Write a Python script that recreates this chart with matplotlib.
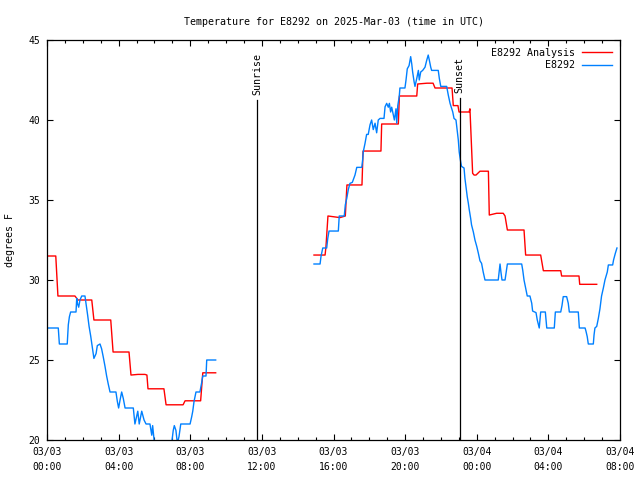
import numpy as np
import matplotlib
matplotlib.use("Agg")
import matplotlib.pyplot as plt

# hours since 2025-03-03 00:00 UTC
analysis_t_am = [0.0, 0.49, 0.61, 1.56, 1.73, 2.50, 2.62, 3.56, 3.69, 4.58, 4.69, 5.08, 5.47,
                 5.58, 5.64, 6.53, 6.65, 7.60, 7.71, 8.58, 8.70, 9.42]
analysis_v_am = [31.5, 31.5, 29.0, 29.0, 28.75, 28.75, 27.5, 27.5, 25.5, 25.5, 24.06, 24.1, 24.1,
                 24.06, 23.2, 23.2, 22.2, 22.2, 22.45, 22.45, 24.2, 24.2]

analysis_t_pm = [14.91, 15.53, 15.58, 15.69, 16.36, 16.66, 16.75, 17.59, 17.65, 18.65, 18.69,
                 19.62, 19.68, 20.65, 20.70, 21.22, 21.56, 21.67, 22.62, 22.69, 22.95, 23.01,
                 23.57, 23.62, 23.77, 23.85, 23.96, 24.18, 24.65, 24.70, 25.11, 25.48, 25.58,
                 25.71, 26.64, 26.73, 27.57, 27.72, 28.69, 28.74, 29.71, 29.75, 30.70]
analysis_v_pm = [31.56, 31.56, 32.1, 34.0, 33.9, 34.0, 35.94, 35.94, 38.06, 38.06, 39.75,
                 39.75, 41.5, 41.5, 42.25, 42.3, 42.3, 42.0, 42.0, 40.9, 40.9, 40.5,
                 40.5, 40.7, 36.67, 36.56, 36.56, 36.8, 36.8, 34.06, 34.17, 34.17, 34.0,
                 33.125, 33.125, 31.56, 31.56, 30.58, 30.58, 30.25, 30.25, 29.73, 29.73]

obs_t_am = [0.0, 0.63, 0.69, 1.13, 1.19, 1.25, 1.32, 1.62, 1.66, 1.71, 1.77, 1.84, 1.94, 2.12,
            2.22, 2.27, 2.35, 2.44, 2.53, 2.62, 2.74, 2.81, 2.96, 3.05, 3.14, 3.24, 3.33, 3.42,
            3.52, 3.85, 3.93, 4.00, 4.08, 4.17, 4.26, 4.36, 4.82, 4.91, 5.07, 5.15, 5.29, 5.42,
            5.53, 5.75, 5.85, 5.90, 5.98, 6.09, 6.59, 6.93, 7.05, 7.11, 7.20, 7.28, 7.37, 7.47,
            7.99, 8.08, 8.14, 8.21, 8.32, 8.54, 8.64, 8.70, 8.88, 8.92, 9.42]
obs_v_am = [27.0, 27.0, 26.0, 26.0, 27.2, 27.7, 28.0, 28.0, 28.85, 28.5, 28.3, 28.75, 29.0, 29.0,
            28.2, 27.8, 27.1, 26.5, 25.8, 25.1, 25.4, 25.9, 26.0, 25.7, 25.2, 24.6, 24.0, 23.5,
            23.0, 23.0, 22.4, 22.0, 22.5, 23.0, 22.6, 22.0, 22.0, 21.0, 21.8, 21.0, 21.8, 21.25,
            21.0, 21.0, 20.3, 20.9, 20.0, 19.5, 19.0, 19.5, 20.6, 20.9, 20.6, 19.8, 20.2, 21.0,
            21.0, 21.45, 21.8, 22.4, 23.0, 23.0, 23.6, 24.0, 24.0, 25.0, 25.0]

obs_t_pm = [14.91, 15.25, 15.30, 15.40, 15.62, 15.68, 15.75, 16.27, 16.32, 16.60, 16.66, 16.74,
            16.83, 16.92, 17.05, 17.20, 17.30, 17.58, 17.63, 17.66, 17.76, 17.85, 17.94, 18.04,
            18.13, 18.22, 18.32, 18.41, 18.50, 18.60, 18.82, 18.88, 18.97, 19.06, 19.12, 19.19,
            19.25, 19.34, 19.40, 19.49, 19.53, 19.59, 19.67, 19.71, 19.99, 20.05, 20.12, 20.22,
            20.31, 20.37, 20.42, 20.50, 20.55, 20.65, 20.74, 20.79, 20.87, 20.98, 21.11, 21.21,
            21.29, 21.35, 21.43, 21.48, 21.85, 21.91, 21.99, 22.32, 22.41, 22.51, 22.66, 22.73,
            22.84, 22.91, 22.97, 23.02, 23.10, 23.15, 23.29, 23.34, 23.40, 23.47, 23.53, 23.58,
            23.66, 23.71, 23.81, 23.90, 24.00, 24.09, 24.18, 24.27, 24.36, 24.46, 25.20, 25.30,
            25.35, 25.41, 25.58, 25.71, 26.51, 26.57, 26.64, 26.75, 26.82, 26.97, 27.07, 27.12,
            27.31, 27.38, 27.49, 27.57, 27.83, 27.91, 28.33, 28.39, 28.69, 28.76, 28.83, 29.02,
            29.11, 29.17, 29.67, 29.73, 30.05, 30.10, 30.17, 30.23, 30.51, 30.55, 30.60, 30.70,
            30.79, 30.88, 30.97, 31.07, 31.16, 31.29, 31.35, 31.59, 31.64, 31.74, 31.83]
obs_v_pm = [31.0, 31.0, 31.46, 32.0, 32.0, 32.6, 33.06, 33.06, 34.0, 34.0, 34.7, 35.1,
            35.67, 36.04, 36.1, 36.56, 37.04, 37.04, 37.54, 38.0, 38.54, 39.1, 39.1, 39.7,
            40.0, 39.4, 39.8, 39.2, 40.0, 40.1, 40.1, 40.83, 41.04, 40.8, 41.04, 40.5,
            40.8, 40.3, 40.0, 40.7, 39.8, 40.9, 41.46, 42.0, 42.0, 42.5, 43.2, 43.4,
            43.96, 43.5, 43.0, 42.4, 42.1, 42.6, 43.1, 42.5, 43.0, 43.1, 43.3, 43.75,
            44.06, 43.75, 43.3, 43.1, 43.1, 42.6, 42.1, 42.1, 41.56, 41.04, 40.5, 40.1,
            40.0, 39.3, 38.75, 38.0, 37.4, 37.1, 37.0, 36.35, 35.8, 35.2, 34.8, 34.4,
            33.85, 33.44, 33.0, 32.5, 32.1, 31.67, 31.2, 31.04, 30.5, 30.0, 30.0, 31.0,
            30.5, 30.0, 30.0, 31.0, 31.0, 30.6, 30.0, 29.4, 29.0, 29.0, 28.55, 28.06,
            27.96, 27.5, 27.0, 28.0, 28.0, 27.0, 27.0, 28.0, 28.0, 28.4, 28.96, 28.96,
            28.55, 28.0, 28.0, 27.0, 27.0, 26.8, 26.46, 26.0, 26.0, 26.56, 27.0, 27.1,
            27.6, 28.2, 29.0, 29.5, 30.0, 30.5, 30.94, 30.94, 31.25, 31.67, 32.0]

sunrise_h = 11.73
sunset_h = 23.04
marker_top = [41.25, 41.4]

xtick_hours = [0, 4, 8, 12, 16, 20, 24, 28, 32]
xtick_labels = ["03/03\n00:00", "03/03\n04:00", "03/03\n08:00", "03/03\n12:00", "03/03\n16:00",
                "03/03\n20:00", "03/04\n00:00", "03/04\n04:00", "03/04\n08:00"]
yticks = [20, 25, 30, 35, 40, 45]

red = "#ff0000"
blue = "#0080ff"

plt.rcParams["font.family"] = ["DejaVu Sans Mono"]
plt.rcParams["font.size"] = 7

fig = plt.figure(figsize=(6.4, 4.8), dpi=100)
ax = fig.add_axes([47 / 640, 40 / 480, 573 / 640, 400 / 480])

ax.plot(analysis_t_am, analysis_v_am, color=red, lw=1.0, label="E8292 Analysis")
ax.plot(analysis_t_pm, analysis_v_pm, color=red, lw=1.0)
ax.plot(obs_t_am, obs_v_am, color=blue, lw=1.0, label="E8292")
ax.plot(obs_t_pm, obs_v_pm, color=blue, lw=1.0)

for h, top, name in zip([sunrise_h, sunset_h], marker_top, ["Sunrise", "Sunset"]):
    ax.plot([h, h], [20, top], color="black", lw=0.9)
    ax.text(h, top + 0.3, name, rotation=90, ha="center", va="bottom", fontsize=7.2)

ax.set_xlim(0, 32)
ax.set_ylim(20, 45)
ax.set_xticks(xtick_hours)
ax.set_xticklabels(xtick_labels, linespacing=1.6)
ax.set_xticks(np.arange(0, 33, 1), minor=True)
ax.set_yticks(yticks)
ax.tick_params(which="both", direction="in", top=True, right=True, width=0.8)
ax.tick_params(which="major", length=4, pad=5)
ax.tick_params(which="minor", length=2)
for s in ax.spines.values():
    s.set_linewidth(0.9)

fig.text(10 / 640, 0.5, "degrees F", rotation=90, ha="center", va="center", fontsize=7.2)
ax.set_title("Temperature for E8292 on 2025-Mar-03 (time in UTC)", fontsize=7.2, pad=11)

ax.legend(loc="upper right", frameon=False, markerfirst=False, handlelength=3.0,
          borderaxespad=0.6, borderpad=0.2, labelspacing=0.25, handletextpad=0.7, fontsize=7.2)

fig.savefig("out.png", dpi=100)
